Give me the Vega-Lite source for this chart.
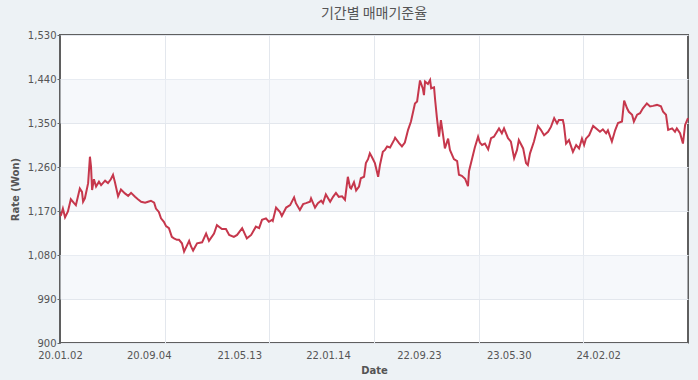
{
  "$schema": "https://vega.github.io/schema/vega-lite/v6.json",
  "width": 628,
  "height": 308,
  "autosize": "none",
  "padding": {"left": 60, "top": 35, "right": 10, "bottom": 37},
  "background": "#edf2f5",
  "title": {"text": "기간별 매매기준율", "font": "Noto Sans CJK KR", "fontSize": 14, "fontWeight": "normal", "color": "#555555", "anchor": "middle", "offset": 9},
  "config": {
    "view": {"fill": "white", "stroke": "#5f5f5f", "strokeWidth": 2},
    "axis": {"labelFont": "DejaVu Sans", "labelFontSize": 10, "labelColor": "#555555", "titleFont": "DejaVu Sans", "titleFontSize": 10, "titleFontWeight": "bold", "titleColor": "#555555"}
  },
  "layer": [
    {
      "data": {"values": [{"lo": 990, "hi": 1080}, {"lo": 1170, "hi": 1260}, {"lo": 1350, "hi": 1440}]},
      "mark": {"type": "rect", "fill": "#eef2f8", "opacity": 0.5},
      "encoding": {
        "y": {
          "field": "lo", "type": "quantitative", "scale": {"domain": [900, 1530], "nice": false, "zero": false},
          "axis": {
            "title": "Rate (Won)", "titlePadding": 7,
            "values": [900, 990, 1080, 1170, 1260, 1350, 1440, 1530],
            "format": ",d", "domain": false, "tickSize": 3, "tickColor": "#666666", "labelPadding": 1,
            "grid": true, "gridColor": "#e3e7ed"
          }
        },
        "y2": {"field": "hi"}
      }
    },
    {
      "data": {"values": [
        {"date": "2020-01-02", "rate": 1160}, {"date": "2020-01-05", "rate": 1162}, {"date": "2020-01-10", "rate": 1175}, {"date": "2020-01-16", "rate": 1157},
        {"date": "2020-01-24", "rate": 1169}, {"date": "2020-02-01", "rate": 1194}, {"date": "2020-02-10", "rate": 1186}, {"date": "2020-02-15", "rate": 1182},
        {"date": "2020-02-26", "rate": 1216}, {"date": "2020-03-03", "rate": 1209}, {"date": "2020-03-06", "rate": 1189}, {"date": "2020-03-11", "rate": 1196},
        {"date": "2020-03-20", "rate": 1227}, {"date": "2020-03-25", "rate": 1281}, {"date": "2020-03-28", "rate": 1261}, {"date": "2020-03-31", "rate": 1213},
        {"date": "2020-04-05", "rate": 1235}, {"date": "2020-04-11", "rate": 1220}, {"date": "2020-04-19", "rate": 1230}, {"date": "2020-04-25", "rate": 1223},
        {"date": "2020-05-06", "rate": 1232}, {"date": "2020-05-14", "rate": 1227}, {"date": "2020-05-22", "rate": 1235}, {"date": "2020-05-28", "rate": 1244},
        {"date": "2020-06-02", "rate": 1230}, {"date": "2020-06-11", "rate": 1200}, {"date": "2020-06-19", "rate": 1214}, {"date": "2020-06-30", "rate": 1206},
        {"date": "2020-07-09", "rate": 1201}, {"date": "2020-07-17", "rate": 1207}, {"date": "2020-07-28", "rate": 1199}, {"date": "2020-08-05", "rate": 1194},
        {"date": "2020-08-14", "rate": 1189}, {"date": "2020-08-25", "rate": 1187}, {"date": "2020-09-02", "rate": 1189}, {"date": "2020-09-10", "rate": 1191},
        {"date": "2020-09-19", "rate": 1187}, {"date": "2020-09-24", "rate": 1175}, {"date": "2020-10-02", "rate": 1168}, {"date": "2020-10-08", "rate": 1155},
        {"date": "2020-10-16", "rate": 1148}, {"date": "2020-10-22", "rate": 1139}, {"date": "2020-10-30", "rate": 1135}, {"date": "2020-11-07", "rate": 1117},
        {"date": "2020-11-13", "rate": 1114}, {"date": "2020-11-21", "rate": 1111}, {"date": "2020-11-27", "rate": 1111}, {"date": "2020-12-05", "rate": 1104},
        {"date": "2020-12-11", "rate": 1087}, {"date": "2020-12-25", "rate": 1109}, {"date": "2020-12-30", "rate": 1098}, {"date": "2021-01-05", "rate": 1089},
        {"date": "2021-01-16", "rate": 1104}, {"date": "2021-01-30", "rate": 1106}, {"date": "2021-02-10", "rate": 1124}, {"date": "2021-02-18", "rate": 1109},
        {"date": "2021-03-04", "rate": 1124}, {"date": "2021-03-12", "rate": 1141}, {"date": "2021-03-26", "rate": 1133}, {"date": "2021-04-06", "rate": 1133},
        {"date": "2021-04-15", "rate": 1121}, {"date": "2021-04-28", "rate": 1117}, {"date": "2021-05-07", "rate": 1121}, {"date": "2021-05-21", "rate": 1135},
        {"date": "2021-06-03", "rate": 1114}, {"date": "2021-06-15", "rate": 1121}, {"date": "2021-06-28", "rate": 1138}, {"date": "2021-07-07", "rate": 1135},
        {"date": "2021-07-15", "rate": 1152}, {"date": "2021-07-26", "rate": 1155}, {"date": "2021-08-03", "rate": 1148}, {"date": "2021-08-12", "rate": 1152},
        {"date": "2021-08-14", "rate": 1150}, {"date": "2021-08-23", "rate": 1177}, {"date": "2021-09-03", "rate": 1168}, {"date": "2021-09-08", "rate": 1160},
        {"date": "2021-09-20", "rate": 1177}, {"date": "2021-10-01", "rate": 1182}, {"date": "2021-10-12", "rate": 1198}, {"date": "2021-10-17", "rate": 1186},
        {"date": "2021-10-28", "rate": 1172}, {"date": "2021-11-06", "rate": 1184}, {"date": "2021-11-14", "rate": 1186}, {"date": "2021-11-25", "rate": 1189},
        {"date": "2021-11-28", "rate": 1196}, {"date": "2021-12-09", "rate": 1177}, {"date": "2021-12-17", "rate": 1186}, {"date": "2021-12-26", "rate": 1191},
        {"date": "2021-12-31", "rate": 1186}, {"date": "2022-01-08", "rate": 1204}, {"date": "2022-01-20", "rate": 1189}, {"date": "2022-01-28", "rate": 1199},
        {"date": "2022-02-05", "rate": 1207}, {"date": "2022-02-13", "rate": 1199}, {"date": "2022-02-22", "rate": 1200}, {"date": "2022-03-02", "rate": 1193},
        {"date": "2022-03-10", "rate": 1240}, {"date": "2022-03-16", "rate": 1218}, {"date": "2022-03-19", "rate": 1216}, {"date": "2022-03-27", "rate": 1229},
        {"date": "2022-04-02", "rate": 1212}, {"date": "2022-04-10", "rate": 1220}, {"date": "2022-04-15", "rate": 1237}, {"date": "2022-04-24", "rate": 1240},
        {"date": "2022-04-29", "rate": 1268}, {"date": "2022-05-05", "rate": 1276}, {"date": "2022-05-10", "rate": 1288}, {"date": "2022-05-16", "rate": 1280},
        {"date": "2022-05-24", "rate": 1268}, {"date": "2022-06-02", "rate": 1240}, {"date": "2022-06-07", "rate": 1264}, {"date": "2022-06-15", "rate": 1291},
        {"date": "2022-06-21", "rate": 1295}, {"date": "2022-06-27", "rate": 1302}, {"date": "2022-07-05", "rate": 1300}, {"date": "2022-07-16", "rate": 1315},
        {"date": "2022-07-19", "rate": 1320}, {"date": "2022-07-30", "rate": 1309}, {"date": "2022-08-07", "rate": 1302}, {"date": "2022-08-15", "rate": 1310},
        {"date": "2022-08-24", "rate": 1336}, {"date": "2022-09-01", "rate": 1353}, {"date": "2022-09-12", "rate": 1390}, {"date": "2022-09-18", "rate": 1394},
        {"date": "2022-09-26", "rate": 1437}, {"date": "2022-10-04", "rate": 1420}, {"date": "2022-10-07", "rate": 1407}, {"date": "2022-10-10", "rate": 1435},
        {"date": "2022-10-18", "rate": 1430}, {"date": "2022-10-24", "rate": 1438}, {"date": "2022-10-27", "rate": 1421}, {"date": "2022-11-04", "rate": 1423},
        {"date": "2022-11-07", "rate": 1397}, {"date": "2022-11-12", "rate": 1360}, {"date": "2022-11-18", "rate": 1322}, {"date": "2022-11-23", "rate": 1356},
        {"date": "2022-11-29", "rate": 1325}, {"date": "2022-12-04", "rate": 1298}, {"date": "2022-12-13", "rate": 1318}, {"date": "2022-12-18", "rate": 1295},
        {"date": "2022-12-29", "rate": 1276}, {"date": "2023-01-07", "rate": 1272}, {"date": "2023-01-12", "rate": 1244}, {"date": "2023-01-20", "rate": 1242},
        {"date": "2023-01-29", "rate": 1236}, {"date": "2023-02-06", "rate": 1221}, {"date": "2023-02-09", "rate": 1252}, {"date": "2023-02-17", "rate": 1276},
        {"date": "2023-02-25", "rate": 1300}, {"date": "2023-03-06", "rate": 1322}, {"date": "2023-03-11", "rate": 1310}, {"date": "2023-03-17", "rate": 1305},
        {"date": "2023-03-25", "rate": 1308}, {"date": "2023-04-03", "rate": 1296}, {"date": "2023-04-11", "rate": 1319}, {"date": "2023-04-19", "rate": 1322},
        {"date": "2023-05-03", "rate": 1339}, {"date": "2023-05-11", "rate": 1329}, {"date": "2023-05-17", "rate": 1339}, {"date": "2023-05-28", "rate": 1319},
        {"date": "2023-06-05", "rate": 1312}, {"date": "2023-06-14", "rate": 1278}, {"date": "2023-06-22", "rate": 1295}, {"date": "2023-06-27", "rate": 1315},
        {"date": "2023-07-09", "rate": 1298}, {"date": "2023-07-17", "rate": 1268}, {"date": "2023-07-22", "rate": 1264}, {"date": "2023-07-28", "rate": 1288},
        {"date": "2023-08-08", "rate": 1312}, {"date": "2023-08-19", "rate": 1344}, {"date": "2023-08-27", "rate": 1336}, {"date": "2023-09-05", "rate": 1325},
        {"date": "2023-09-16", "rate": 1332}, {"date": "2023-09-24", "rate": 1342}, {"date": "2023-10-03", "rate": 1360}, {"date": "2023-10-11", "rate": 1349},
        {"date": "2023-10-16", "rate": 1356}, {"date": "2023-10-27", "rate": 1356}, {"date": "2023-10-30", "rate": 1346}, {"date": "2023-11-05", "rate": 1308},
        {"date": "2023-11-13", "rate": 1315}, {"date": "2023-11-24", "rate": 1291}, {"date": "2023-12-03", "rate": 1305}, {"date": "2023-12-11", "rate": 1298},
        {"date": "2023-12-19", "rate": 1318}, {"date": "2023-12-25", "rate": 1305}, {"date": "2023-12-30", "rate": 1318}, {"date": "2024-01-08", "rate": 1325},
        {"date": "2024-01-19", "rate": 1344}, {"date": "2024-01-30", "rate": 1337}, {"date": "2024-02-07", "rate": 1332}, {"date": "2024-02-15", "rate": 1337},
        {"date": "2024-02-24", "rate": 1329}, {"date": "2024-02-29", "rate": 1335}, {"date": "2024-03-11", "rate": 1312}, {"date": "2024-03-20", "rate": 1335},
        {"date": "2024-03-28", "rate": 1350}, {"date": "2024-04-08", "rate": 1353}, {"date": "2024-04-14", "rate": 1396}, {"date": "2024-04-22", "rate": 1380},
        {"date": "2024-04-27", "rate": 1373}, {"date": "2024-05-06", "rate": 1367}, {"date": "2024-05-11", "rate": 1353}, {"date": "2024-05-20", "rate": 1367},
        {"date": "2024-05-28", "rate": 1370}, {"date": "2024-06-05", "rate": 1380}, {"date": "2024-06-16", "rate": 1390}, {"date": "2024-06-25", "rate": 1384},
        {"date": "2024-07-03", "rate": 1385}, {"date": "2024-07-14", "rate": 1387}, {"date": "2024-07-25", "rate": 1384}, {"date": "2024-07-31", "rate": 1373},
        {"date": "2024-08-08", "rate": 1367}, {"date": "2024-08-14", "rate": 1336}, {"date": "2024-08-25", "rate": 1339}, {"date": "2024-09-02", "rate": 1332},
        {"date": "2024-09-07", "rate": 1339}, {"date": "2024-09-16", "rate": 1329}, {"date": "2024-09-24", "rate": 1308}, {"date": "2024-09-30", "rate": 1346},
        {"date": "2024-10-08", "rate": 1360}
      ]},
      "mark": {"type": "line", "color": "#c6374c", "strokeWidth": 2},
      "encoding": {
        "x": {
          "field": "date", "type": "temporal",
          "scale": {"type": "utc", "domain": [{"year": 2020, "month": 1, "date": 2, "utc": true}, {"year": 2024, "month": 10, "date": 8, "utc": true}]},
          "axis": {
            "title": "Date", "titlePadding": 5,
            "values": [
              {"year": 2020, "month": 1, "date": 2, "utc": true}, {"year": 2020, "month": 9, "date": 4, "utc": true},
              {"year": 2021, "month": 5, "date": 13, "utc": true}, {"year": 2022, "month": 1, "date": 14, "utc": true},
              {"year": 2022, "month": 9, "date": 23, "utc": true}, {"year": 2023, "month": 5, "date": 30, "utc": true},
              {"year": 2024, "month": 2, "date": 2, "utc": true},
              {"year": 2020, "month": 10, "date": 18, "utc": true}, {"year": 2021, "month": 8, "date": 4, "utc": true},
              {"year": 2022, "month": 5, "date": 21, "utc": true}, {"year": 2023, "month": 3, "date": 8, "utc": true},
              {"year": 2023, "month": 12, "date": 23, "utc": true}
            ],
            "labelExpr": "indexof(['20.01.02','20.09.04','21.05.13','22.01.14','22.09.23','23.05.30','24.02.02'], utcFormat(datum.value, '%y.%m.%d')) >= 0 ? utcFormat(datum.value, '%y.%m.%d') : ''",
            "labelFlush": false, "labelOverlap": false, "labelPadding": 7,
            "ticks": false, "tickSize": 0, "domain": false,
            "grid": true, "gridColor": "#e3e7ed",
            "gridOpacity": {"condition": {"test": "indexof(['20.10.18','21.08.04','22.05.21','23.03.08','23.12.23'], utcFormat(datum.value, '%y.%m.%d')) >= 0", "value": 1}, "value": 0}
          }
        },
        "y": {
          "field": "rate", "type": "quantitative",
          "scale": {"domain": [900, 1530], "nice": false, "zero": false},
          "axis": {
            "title": "Rate (Won)", "titlePadding": 7,
            "values": [900, 990, 1080, 1170, 1260, 1350, 1440, 1530],
            "format": ",d", "domain": false, "tickSize": 3, "tickColor": "#666666", "labelPadding": 1,
            "grid": true, "gridColor": "#e3e7ed"
          }
        }
      }
    }
  ]
}
